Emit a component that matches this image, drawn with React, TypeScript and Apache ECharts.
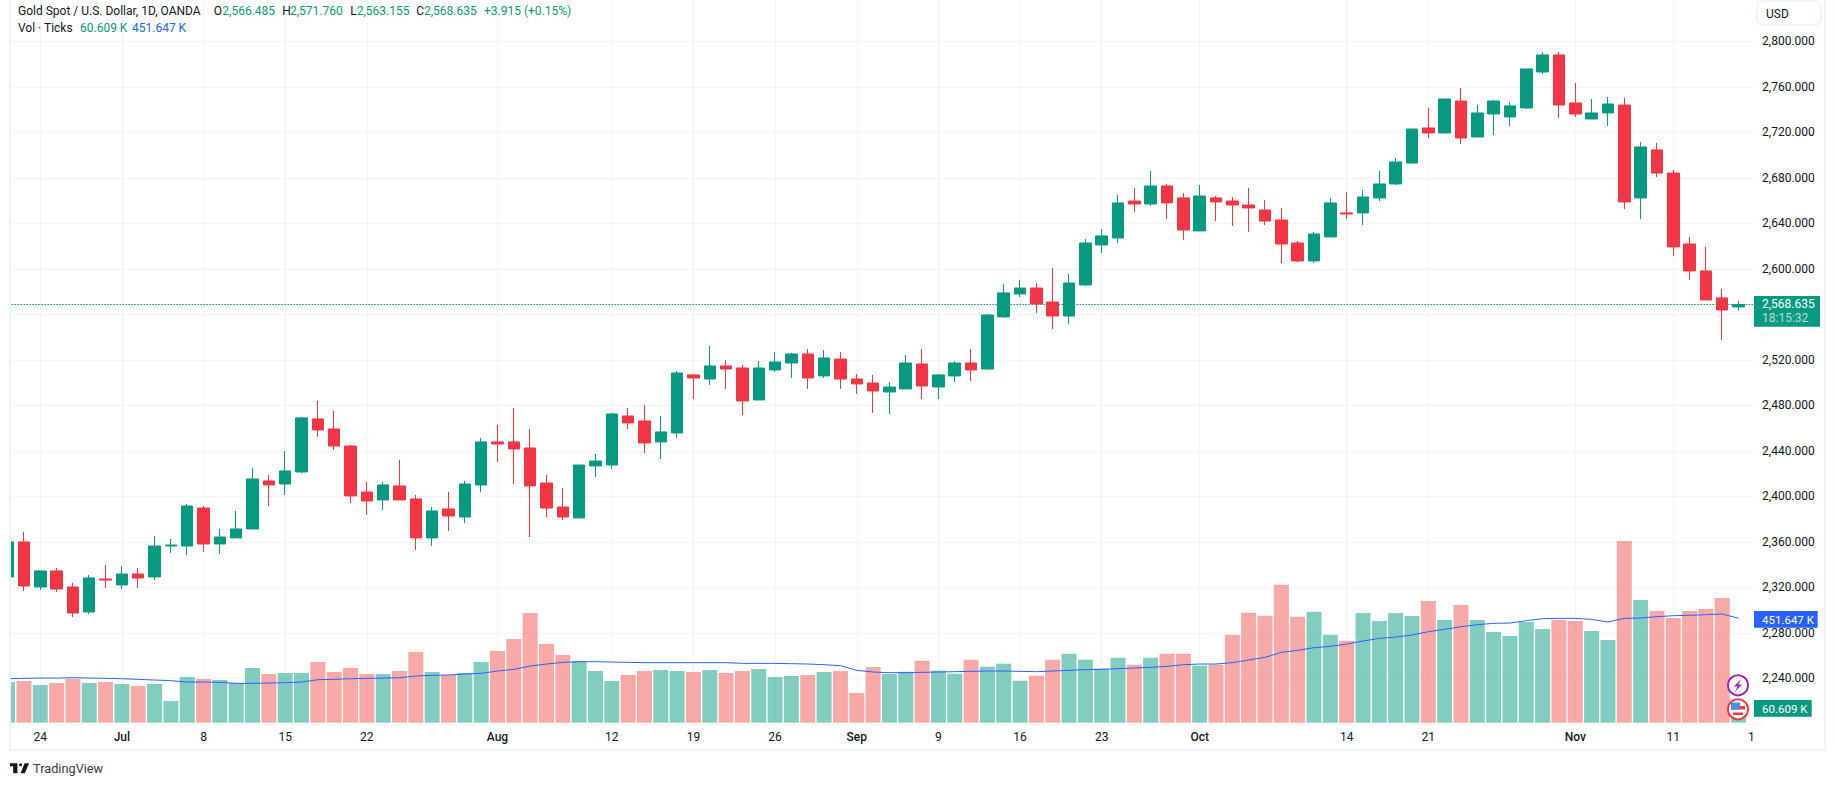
import React, { useEffect, useRef } from 'react';
import * as echarts from 'echarts';

const FONT = 'Roboto';
const UP = '#089981';
const DOWN = '#f23645';
const BLUE = '#2962ff';
const INK = '#131722';
const GRID = '#f3f4f6';
const FRAME = '#f0f3fa';

const opens = [
  2329.1, 2359.9, 2320.3, 2334.4, 2320.3, 2298.3, 2327.3, 2322.1, 2331.7, 2329.1, 2356.3, 2356.3, 2389.7, 2358.1,
  2363.4, 2371.3, 2413.5, 2410.8, 2421.4, 2468.0, 2459.2, 2444.2, 2403.8, 2396.8, 2409.1, 2397.7, 2363.4, 2388.9,
  2381.8, 2410.0, 2447.8, 2447.8, 2442.5, 2411.7, 2390.6, 2381.0, 2426.7, 2427.5, 2470.6, 2466.2, 2447.8, 2455.7,
  2506.7, 2503.1, 2514.6, 2512.8, 2484.7, 2511.1, 2517.2, 2525.1, 2505.8, 2520.7, 2503.1, 2499.6, 2491.7, 2494.4,
  2516.3, 2496.1, 2505.8, 2517.2, 2511.9, 2557.7, 2577.9, 2583.1, 2570.8, 2558.5, 2585.8, 2621.0, 2627.1, 2659.6,
  2657.0, 2672.8, 2662.3, 2633.3, 2662.3, 2659.6, 2656.1, 2651.7, 2642.9, 2622.7, 2606.9, 2628.0, 2649.1, 2649.1,
  2662.3, 2674.6, 2693.0, 2723.8, 2719.4, 2747.5, 2715.9, 2736.1, 2733.5, 2741.4, 2773.0, 2788.0, 2745.8, 2731.7,
  2737.0, 2744.0, 2662.3, 2704.5, 2684.2, 2621.8, 2598.1, 2574.4, 2566.485,
];
const closes = [
  2359.9, 2321.2, 2334.4, 2318.5, 2297.4, 2328.2, 2326.4, 2331.7, 2328.2, 2356.3, 2357.2, 2391.5, 2358.1, 2364.2,
  2371.3, 2415.2, 2410.0, 2422.3, 2468.9, 2458.3, 2444.2, 2400.3, 2395.9, 2410.0, 2396.8, 2363.4, 2387.1, 2382.7,
  2410.8, 2447.8, 2446.0, 2441.6, 2409.1, 2389.7, 2381.8, 2427.5, 2431.0, 2472.4, 2464.5, 2446.9, 2456.6, 2508.4,
  2504.0, 2514.6, 2511.9, 2483.8, 2512.8, 2518.1, 2525.1, 2504.0, 2521.6, 2503.1, 2498.8, 2492.6, 2496.1, 2517.2,
  2497.0, 2506.7, 2517.2, 2511.1, 2559.4, 2578.8, 2583.1, 2569.1, 2558.5, 2587.5, 2622.7, 2628.9, 2657.9, 2657.0,
  2672.8, 2657.9, 2634.1, 2664.0, 2658.8, 2656.1, 2653.5, 2642.0, 2621.8, 2606.9, 2630.6, 2657.9, 2648.2, 2663.1,
  2674.6, 2693.9, 2722.9, 2719.4, 2749.3, 2715.0, 2737.0, 2747.5, 2743.2, 2775.7, 2788.0, 2744.0, 2736.1, 2737.0,
  2744.9, 2658.8, 2707.1, 2684.2, 2619.2, 2598.1, 2572.6, 2563.8, 2568.635,
];
const lows = [
  2326.0, 2316.8, 2317.7, 2315.9, 2293.9, 2296.6, 2319.4, 2318.5, 2319.4, 2326.4, 2350.2, 2348.4, 2351.1, 2349.3,
  2363.4, 2371.3, 2391.5, 2401.2, 2420.5, 2452.2, 2440.7, 2394.1, 2383.6, 2388.0, 2396.8, 2352.8, 2356.3, 2369.5,
  2376.6, 2403.8, 2430.2, 2410.8, 2364.2, 2381.8, 2379.2, 2381.0, 2417.0, 2424.0, 2459.2, 2438.1, 2432.8, 2451.3,
  2485.6, 2497.9, 2494.4, 2471.5, 2484.7, 2509.3, 2504.0, 2494.4, 2504.0, 2494.4, 2490.0, 2473.3, 2472.4, 2494.4,
  2485.6, 2485.6, 2500.5, 2501.4, 2511.1, 2556.8, 2575.2, 2561.2, 2547.1, 2551.5, 2584.9, 2613.9, 2622.7, 2650.0,
  2655.2, 2643.8, 2625.3, 2633.3, 2642.0, 2637.7, 2632.4, 2638.5, 2605.1, 2606.0, 2605.1, 2628.0, 2643.8, 2638.5,
  2659.6, 2673.7, 2693.0, 2715.0, 2719.4, 2709.7, 2715.9, 2717.7, 2725.6, 2740.5, 2771.3, 2732.6, 2733.5, 2731.7,
  2725.6, 2652.6, 2643.8, 2680.7, 2611.3, 2590.2, 2572.6, 2537.4, 2563.155,
];
const highs = [
  2362.0, 2368.6, 2334.4, 2337.0, 2323.8, 2330.8, 2339.6, 2338.8, 2337.0, 2365.1, 2362.5, 2393.3, 2391.5, 2371.3,
  2387.1, 2424.9, 2418.8, 2439.9, 2469.7, 2483.8, 2475.0, 2445.1, 2412.6, 2412.6, 2431.9, 2401.2, 2390.6, 2403.8,
  2413.5, 2451.3, 2462.7, 2477.7, 2459.2, 2418.8, 2407.3, 2427.5, 2437.2, 2473.3, 2477.7, 2480.3, 2470.6, 2510.2,
  2507.5, 2532.2, 2519.9, 2515.5, 2519.0, 2526.9, 2526.0, 2529.5, 2528.6, 2526.9, 2507.5, 2506.7, 2500.5, 2524.2,
  2529.5, 2507.5, 2519.0, 2529.5, 2560.3, 2586.7, 2590.2, 2587.5, 2600.7, 2595.5, 2626.2, 2635.0, 2664.9, 2671.0,
  2686.0, 2674.6, 2666.7, 2673.7, 2664.0, 2663.1, 2671.0, 2660.5, 2653.5, 2624.5, 2632.4, 2662.3, 2667.5, 2669.3,
  2686.0, 2697.4, 2722.9, 2741.4, 2749.3, 2759.0, 2744.0, 2748.4, 2746.7, 2775.7, 2790.6, 2790.6, 2763.4, 2749.3,
  2751.0, 2750.2, 2711.5, 2710.6, 2686.9, 2628.0, 2619.2, 2582.3, 2571.76,
];
const volumes = [
  175.9, 180.3, 162.9, 171.6, 188.9, 171.6, 175.9, 167.3, 158.6, 167.3, 93.7, 197.6, 188.9, 184.6,
  171.6, 236.5, 210.5, 214.9, 214.9, 262.4, 219.2, 236.5, 210.5, 210.5, 223.5, 305.7, 219.2, 206.2,
  214.9, 262.4, 310.0, 361.9, 474.4, 340.3, 292.7, 266.8, 223.5, 180.3, 206.2, 223.5, 227.8, 223.5,
  219.2, 227.8, 214.9, 223.5, 232.2, 197.6, 201.9, 206.2, 219.2, 223.5, 128.3, 240.8, 210.5, 220.6,
  268.2, 225.0, 212.0, 272.5, 242.3, 255.2, 181.7, 203.3, 272.5, 298.5, 272.5, 233.6, 281.2, 250.9,
  281.2, 298.5, 298.5, 246.6, 250.9, 380.7, 475.9, 462.9, 597.0, 458.6, 480.2, 380.7, 354.0, 475.0,
  439.8, 474.4, 461.4, 526.3, 444.1, 509.0, 444.1, 392.2, 374.9, 435.5, 405.2, 444.1, 439.8, 396.6,
  357.6, 785.9, 530.7, 483.1, 452.8, 483.1, 491.7, 539.3, 60.609,
];
const volumeMa = [
  190.3, 191.8, 193.2, 193.2, 194.7, 193.2, 191.8, 190.3, 187.5, 184.6, 181.7, 175.9, 175.9, 174.5,
  170.2, 170.2, 171.6, 173.0, 175.9, 186.0, 187.5, 190.3, 191.8, 193.2, 194.7, 201.9, 204.8, 206.2,
  210.5, 213.4, 223.5, 230.7, 245.1, 253.8, 261.0, 263.9, 263.9, 262.4, 261.0, 259.6, 259.6, 259.6,
  259.6, 259.6, 259.6, 256.7, 256.7, 256.7, 255.2, 253.8, 250.9, 246.6, 226.4, 219.2, 216.3, 216.3,
  217.7, 219.2, 220.6, 222.1, 223.5, 223.5, 222.1, 220.6, 223.5, 226.4, 229.3, 230.7, 233.6, 236.5,
  239.4, 243.7, 250.9, 253.8, 253.8, 259.6, 271.1, 282.6, 304.3, 312.9, 324.5, 330.2, 340.0, 353.3,
  364.8, 370.6, 379.2, 393.7, 403.7, 415.3, 424.0, 429.7, 431.2, 441.3, 449.9, 451.3, 451.3, 447.0,
  435.5, 451.3, 452.8, 458.6, 462.9, 464.3, 467.2, 470.1, 451.647,
];

const tickLabels: Record<string, string> = {
  '2024-06-24': '24', '2024-07-01': 'Jul', '2024-07-08': '8', '2024-07-15': '15', '2024-07-22': '22',
  '2024-08-01': 'Aug', '2024-08-12': '12', '2024-08-19': '19', '2024-08-26': '26', '2024-09-02': 'Sep',
  '2024-09-09': '9', '2024-09-16': '16', '2024-09-23': '23', '2024-10-01': 'Oct', '2024-10-14': '14',
  '2024-10-21': '21', '2024-11-01': 'Nov', '2024-11-11': '11', '2024-11-18': '1',
};
const monthLabels = ['Jul', 'Aug', 'Sep', 'Oct', 'Nov'];
// price ticks that the reference leaves visible (2,560 sits behind the last-price tag)
const priceTicks = [2240, 2280, 2320, 2360, 2400, 2440, 2480, 2520, 2600, 2640, 2680, 2720, 2760, 2800];

// weekdays only, one slot past the last bar
const categories: string[] = [];
for (let d = Date.UTC(2024, 5, 20); categories.length < 108; d += 86400000) {
  const day = new Date(d);
  if (day.getUTCDay() !== 0 && day.getUTCDay() !== 6) categories.push(day.toISOString().slice(0, 10));
}

const lastClose = 2568.635;

echarts.graphic.registerShape(
  'tvLogo',
  echarts.graphic.extendPath('M14 0H0v6h6v14h8zM28 20h-8L27.5 0H36zM23 3a3 3 0 1 1-6 0 3 3 0 0 1 6 0z', {}) as any
);

const txt = (text: string, x: number, y: number, fill: string, fontSize = 12, z = 6) => ({
  type: 'text',
  x,
  y,
  z,
  silent: true,
  style: { text, fill, font: `${fontSize}px ${FONT}`, verticalAlign: 'middle' },
});
const box = (x: number, y: number, width: number, height: number, fill: string, z = 5) => ({
  type: 'rect',
  z,
  silent: true,
  shape: { x, y, width, height },
  style: { fill },
});

export default function App() {
  const chartRef = useRef<HTMLDivElement>(null);

  useEffect(() => {
    if (!chartRef.current) return;
    const chart = echarts.init(chartRef.current, undefined, { renderer: 'svg' });

    const candleData = opens.map((o, i) => [o, closes[i], lows[i], highs[i]]);
    const volumeData = volumes.map((v, i) => ({
      value: v,
      itemStyle: { color: closes[i] >= opens[i] ? 'rgba(8,153,129,0.5)' : 'rgba(239,83,80,0.5)' },
    }));

    const priceAxis = { type: 'value', min: 2200, max: 2840, interval: 40, position: 'right', scale: true };

    chart.setOption({
      animation: false,
      backgroundColor: '#ffffff',
      // bands are 16.33px wide, first band starts just left of the pane and gets covered
      grid: { left: -0.57, top: -4.2, width: 1763.64, height: 728, outerBoundsMode: 'none' },
      xAxis: {
        type: 'category',
        data: categories,
        axisLine: { show: false },
        axisTick: { show: false },
        splitLine: {
          show: true,
          alignWithLabel: true,
          interval: (_: number, value: string) => value in tickLabels,
          lineStyle: { color: GRID, width: 1 },
        },
        axisLabel: {
          interval: (_: number, value: string) => value in tickLabels,
          margin: 7,
          color: INK,
          fontFamily: FONT,
          fontSize: 12,
          hideOverlap: false,
          formatter: (value: string) => {
            const label = tickLabels[value];
            if (monthLabels.includes(label)) return `{m|${label}}`;
            if (value === '2024-11-18') return `{cut|${label}}`;
            return label;
          },
          rich: {
            m: { fontFamily: FONT, fontSize: 12, fontWeight: 500, color: INK },
            cut: { fontFamily: FONT, fontSize: 12, color: INK, padding: [0, 7, 0, 0] },
          },
        },
      },
      yAxis: [
        {
          ...priceAxis,
          axisLine: { show: false },
          axisTick: { show: false },
          axisLabel: { show: false },
          splitLine: { show: true, lineStyle: { color: GRID, width: 1 } },
        },
        { type: 'value', min: -4.8, max: 3144.7, show: false, splitLine: { show: false } },
        {
          ...priceAxis,
          z: 4,
          axisLine: { show: false },
          axisTick: { show: false },
          splitLine: { show: false },
          axisLabel: {
            margin: -1,
            color: INK,
            fontFamily: FONT,
            fontSize: 12,
            padding: [0, 0, 3, 0],
            formatter: (v: number) =>
              priceTicks.includes(v) ? v.toLocaleString('en-US', { minimumFractionDigits: 3 }) : '',
          },
        },
      ],
      series: [
        {
          type: 'line',
          data: [],
          z: 0.5,
          silent: true,
          markLine: {
            silent: true,
            z: 0.5,
            symbol: 'none',
            label: { show: false },
            lineStyle: { color: UP, width: 1, type: [1.5, 1.5], opacity: 1 },
            data: [{ yAxis: lastClose }],
          },
        },
        {
          type: 'bar',
          yAxisIndex: 1,
          data: volumeData,
          barWidth: 15,
          z: 1.5,
          silent: true,
        },
        {
          type: 'candlestick',
          data: candleData,
          barWidth: 12,
          z: 2,
          silent: true,
          itemStyle: { color: UP, color0: DOWN, borderColor: UP, borderColor0: DOWN, borderWidth: 1 },
        },
        {
          type: 'line',
          yAxisIndex: 1,
          data: volumeMa,
          z: 2.5,
          silent: true,
          showSymbol: false,
          lineStyle: { color: BLUE, width: 1 },
        },
      ],
      graphic: {
        elements: [
          // covers for the pane edges
          box(1753, -5, 82, 729, '#ffffff', 1),
          box(0, -5, 9, 756, '#ffffff', 3),
          box(9, 0, 2, 751, FRAME),
          box(9, 749, 1817, 2, FRAME),
          box(1824, 0, 2, 751, FRAME),

          txt('Gold Spot / U.S. Dollar, 1D, OANDA', 18, 11, INK),
          txt('O', 213.7, 11, INK),
          txt('2,566.485', 222.3, 11, UP),
          txt('H', 282.3, 11, INK),
          txt('2,571.760', 290, 11, UP),
          txt('L', 350.3, 11, INK),
          txt('2,563.155', 356.7, 11, UP),
          txt('C', 416.3, 11, INK),
          txt('2,568.635', 424, 11, UP),
          txt('+3.915 (+0.15%)', 484, 11, UP),
          txt('Vol · Ticks', 18, 28, INK),
          txt('60.609 K', 80, 28, UP),
          txt('451.647 K', 132, 28, BLUE),

          {
            type: 'rect',
            z: 5,
            shape: { x: 1757, y: 1, width: 64, height: 24, r: 6 },
            style: { fill: '#ffffff', stroke: FRAME, lineWidth: 2 },
          },
          txt('USD', 1766, 13.5, INK, 12),

          box(1754, 296, 66, 30.7, UP),
          txt('2,568.635', 1762, 303.7, '#ffffff', 12),
          txt('18:15:32', 1762, 317.7, 'rgba(255,255,255,0.7)', 12),

          box(1754, 611, 63.7, 16.7, BLUE),
          txt('451.647 K', 1762, 619.5, '#ffffff', 11.5),
          box(1754, 700, 57.7, 16.7, UP),
          txt('60.609 K', 1762, 708.5, '#ffffff', 11.5),

          // event markers
          {
            type: 'circle',
            z: 5,
            shape: { cx: 1738, cy: 685.3, r: 10 },
            style: { fill: '#ffffff', stroke: '#9c27b0', lineWidth: 2 },
          },
          {
            type: 'polygon',
            z: 6,
            shape: { points: [[1741, 679], [1734, 686.5], [1737.5, 686.5], [1735, 692], [1742, 684.5], [1738.5, 684.5]] },
            style: { fill: '#9c27b0' },
          },
          {
            type: 'circle',
            z: 5,
            shape: { cx: 1738, cy: 709.3, r: 10 },
            style: { fill: '#ffffff', stroke: '#f23645', lineWidth: 2 },
          },
          box(1731, 706, 14, 3.5, '#f23645', 6),
          box(1733, 712.5, 10, 2.5, '#f23645', 6),
          box(1731, 702.5, 9, 7, '#4a90e2', 7),

          {
            type: 'tvLogo',
            x: 10,
            y: 763.3,
            scaleX: 0.53,
            scaleY: 0.5,
            z: 6,
            style: { fill: INK },
          },
          txt('TradingView', 33, 768.5, '#363a45', 12.75),
        ],
      },
    } as any);

    return () => chart.dispose();
  }, []);

  return <div ref={chartRef} style={{ position: 'fixed', left: 0, top: 0, width: 1835, height: 786 }} />;
}
